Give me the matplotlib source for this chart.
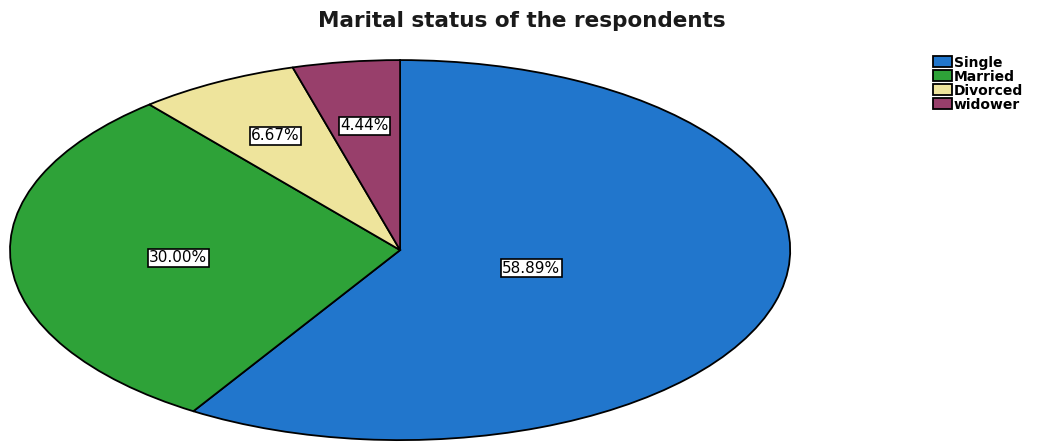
import numpy as np
import matplotlib.pyplot as plt

labels = ['Single', 'Married', 'Divorced', 'widower']
values = [58.89, 30.00, 6.67, 4.44]
colors = ['#2176CC', '#2EA238', '#EEE49C', '#983F6B']
label_dist = [0.35, 0.57, 0.68, 0.66]

fig = plt.figure(figsize=(10.43, 4.45), dpi=100)
ax = fig.add_axes([0.0096, 0.011, 0.748, 0.854])

wedges, _ = ax.pie(values, colors=colors, startangle=90, counterclock=False,
                   wedgeprops=dict(edgecolor='black', linewidth=1.3))
ax.set_aspect('auto')
ax.set_xlim(-1, 1)
ax.set_ylim(-1, 1)

for w, v, d in zip(wedges, values, label_dist):
    ang = np.deg2rad((w.theta1 + w.theta2) / 2)
    ax.text(d * np.cos(ang), d * np.sin(ang), '%.2f%%' % v,
            ha='center', va='center', fontsize=11, family='DejaVu Sans',
            bbox=dict(boxstyle='square,pad=0.1', fc='white', ec='black', lw=1.2))

fig.text(0.50, 0.952, 'Marital status of the respondents', ha='center', va='center',
         fontsize=15.5, fontweight='bold', family='DejaVu Sans', color='#1a1a1a')

fig.legend(wedges, labels, loc='upper left', bbox_to_anchor=(0.895, 0.875),
           frameon=False, prop=dict(size=10, weight='bold', family='DejaVu Sans'),
           handlelength=1.3, handleheight=0.8, handletextpad=0.15,
           labelspacing=0.0, borderpad=0, borderaxespad=0)

fig.savefig('out.png', dpi=100)
